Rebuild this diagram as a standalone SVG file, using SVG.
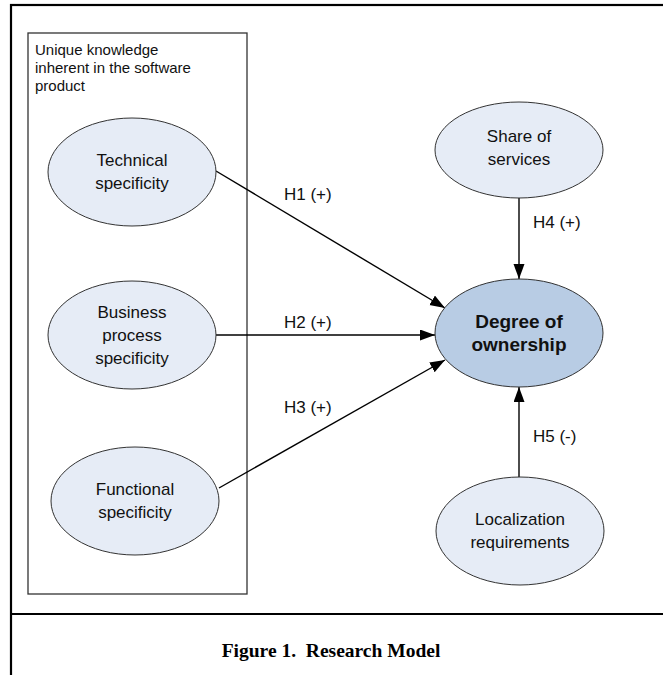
<svg xmlns="http://www.w3.org/2000/svg" width="663" height="675" viewBox="0 0 663 675">
  <style>
    .frame { fill: none; stroke: #000; stroke-width: 2.2; }
    .group-box { fill: none; stroke: #333; stroke-width: 1.3; }
    .node { fill: #E6ECF6; stroke: #333; stroke-width: 1; }
    .node-key { fill: #B8CCE4; stroke: #333; stroke-width: 1; }
    .lbl { font-family: "Liberation Sans", Arial, sans-serif; font-size: 17px; fill: #111; text-anchor: middle; }
    .lbl-bold { font-family: "Liberation Sans", Arial, sans-serif; font-size: 19px; font-weight: bold; fill: #111; text-anchor: middle; }
    .edge-lbl { font-family: "Liberation Sans", Arial, sans-serif; font-size: 17px; fill: #111; }
    .box-title { font-family: "Liberation Sans", Arial, sans-serif; font-size: 15px; fill: #111; }
    .caption { font-family: "Liberation Serif", "Times New Roman", serif; font-size: 19.5px; font-weight: bold; fill: #000; text-anchor: middle; white-space: pre; }
    .edge { stroke: #000; stroke-width: 1.4; fill: none; marker-end: url(#arrow); }
  </style>
  <defs>
    <marker id="arrow" markerUnits="userSpaceOnUse" markerWidth="16" markerHeight="12" refX="15" refY="5.5" orient="auto">
      <path d="M0,0 L15,5.5 L0,11 z" fill="#000"/>
    </marker>
  </defs>

  <rect width="663" height="675" fill="#fff"/>

  <!-- figure frame and caption divider -->
  <rect class="frame" x="11" y="5" width="700" height="720"/>
  <line x1="11" y1="614" x2="663" y2="614" stroke="#000" stroke-width="2.2"/>

  <!-- grouping box -->
  <g id="knowledge-box">
    <rect class="group-box" x="28" y="33" width="219" height="561"/>
    <text class="box-title" x="35" y="55">Unique knowledge</text>
    <text class="box-title" x="35" y="73">inherent in the software</text>
    <text class="box-title" x="35" y="91">product</text>
  </g>

  <!-- connectors -->
  <g id="connectors">
    <line class="edge" x1="216" y1="171" x2="445" y2="308"/>
    <line class="edge" x1="216" y1="335" x2="435" y2="335"/>
    <line class="edge" x1="219" y1="488" x2="445" y2="360"/>
    <line class="edge" x1="519" y1="198" x2="519" y2="279"/>
    <line class="edge" x1="519" y1="477" x2="519" y2="387"/>
    <text class="edge-lbl" x="284" y="200">H1 (+)</text>
    <text class="edge-lbl" x="284" y="328">H2 (+)</text>
    <text class="edge-lbl" x="284" y="413">H3 (+)</text>
    <text class="edge-lbl" x="533" y="228">H4 (+)</text>
    <text class="edge-lbl" x="533" y="442">H5 (-)</text>
  </g>

  <g id="technical">
    <ellipse class="node" cx="132" cy="172" rx="84" ry="54"/>
    <text class="lbl" x="132" y="166">Technical</text>
    <text class="lbl" x="132" y="189">specificity</text>
  </g>

  <g id="business">
    <ellipse class="node" cx="132" cy="335" rx="84" ry="54"/>
    <text class="lbl" x="132" y="318">Business</text>
    <text class="lbl" x="132" y="341">process</text>
    <text class="lbl" x="132" y="364">specificity</text>
  </g>

  <g id="functional">
    <ellipse class="node" cx="135" cy="501" rx="84" ry="54"/>
    <text class="lbl" x="135" y="495">Functional</text>
    <text class="lbl" x="135" y="518">specificity</text>
  </g>

  <g id="share">
    <ellipse class="node" cx="519" cy="150" rx="84" ry="48"/>
    <text class="lbl" x="519" y="142">Share of</text>
    <text class="lbl" x="519" y="165">services</text>
  </g>

  <g id="ownership">
    <ellipse class="node-key" cx="519" cy="333" rx="84" ry="54"/>
    <text class="lbl-bold" x="519" y="328">Degree of</text>
    <text class="lbl-bold" x="519" y="351">ownership</text>
  </g>

  <g id="localization">
    <ellipse class="node" cx="520" cy="531" rx="84" ry="54"/>
    <text class="lbl" x="520" y="525">Localization</text>
    <text class="lbl" x="520" y="548">requirements</text>
  </g>

  <text class="caption" x="331" y="657" xml:space="preserve">Figure 1.  Research Model</text>
</svg>
